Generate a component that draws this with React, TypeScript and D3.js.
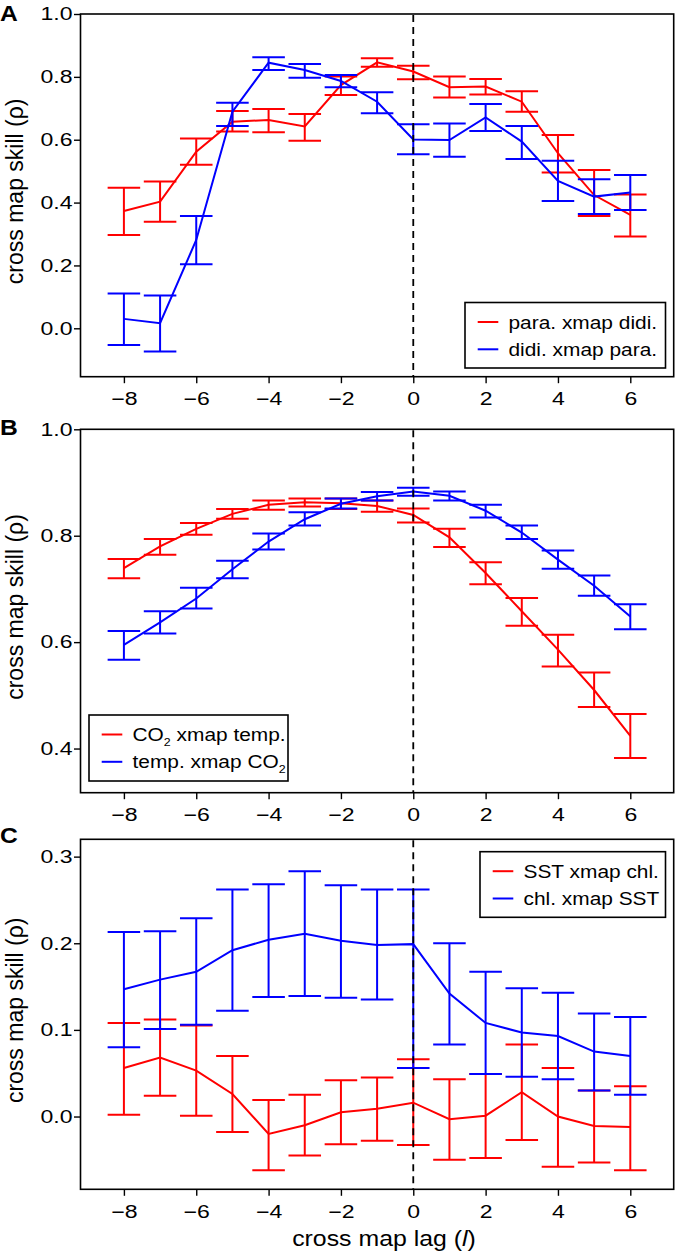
import { useEffect, useRef } from 'react';
import * as d3 from 'd3';

// ---------------------------------------------------------------------------
// data (cross map skill vs. lag)
// ---------------------------------------------------------------------------
const lags = [-8, -7, -6, -5, -4, -3, -2, -1, 0, 1, 2, 3, 4, 5, 6];
const xTicks = [-8, -6, -4, -2, 0, 2, 4, 6];

// panel A
const paraXmapDidi = [0.373, 0.403, 0.562, 0.657, 0.663, 0.642, 0.774, 0.846, 0.817, 0.767, 0.769, 0.721, 0.557, 0.424, 0.361];
const paraXmapDidiHi = [0.447, 0.467, 0.604, 0.691, 0.698, 0.682, 0.801, 0.859, 0.835, 0.801, 0.793, 0.754, 0.615, 0.504, 0.426];
const paraXmapDidiLo = [0.297, 0.339, 0.520, 0.626, 0.624, 0.597, 0.742, 0.832, 0.792, 0.734, 0.744, 0.689, 0.496, 0.357, 0.292];
const didiXmapPara = [0.030, 0.016, 0.281, 0.689, 0.845, 0.822, 0.787, 0.721, 0.601, 0.599, 0.671, 0.594, 0.469, 0.419, 0.432];
const didiXmapParaHi = [0.111, 0.104, 0.357, 0.718, 0.862, 0.841, 0.806, 0.751, 0.649, 0.652, 0.714, 0.644, 0.533, 0.474, 0.488];
const didiXmapParaLo = [-0.053, -0.074, 0.204, 0.644, 0.822, 0.797, 0.767, 0.684, 0.554, 0.546, 0.628, 0.539, 0.405, 0.364, 0.376];

// panel B
const co2XmapTemp = [0.739, 0.780, 0.813, 0.841, 0.858, 0.863, 0.861, 0.856, 0.839, 0.797, 0.730, 0.658, 0.586, 0.510, 0.424];
const co2XmapTempHi = [0.756, 0.794, 0.824, 0.850, 0.866, 0.870, 0.870, 0.866, 0.851, 0.813, 0.750, 0.683, 0.614, 0.543, 0.465];
const co2XmapTempLo = [0.720, 0.764, 0.802, 0.832, 0.849, 0.855, 0.850, 0.845, 0.825, 0.779, 0.709, 0.631, 0.554, 0.478, 0.382];
const tempXmapCo2 = [0.595, 0.637, 0.682, 0.737, 0.789, 0.831, 0.860, 0.874, 0.883, 0.875, 0.847, 0.806, 0.755, 0.706, 0.648];
const tempXmapCo2Hi = [0.621, 0.658, 0.702, 0.753, 0.804, 0.844, 0.870, 0.882, 0.890, 0.883, 0.858, 0.819, 0.772, 0.725, 0.671];
const tempXmapCo2Lo = [0.567, 0.616, 0.663, 0.720, 0.774, 0.819, 0.851, 0.866, 0.875, 0.866, 0.834, 0.794, 0.738, 0.687, 0.624];

// panel C
const sstXmapChl = [0.056, 0.068, 0.053, 0.026, -0.020, -0.010, 0.005, 0.009, 0.016, -0.003, 0.001, 0.028, 0.000, -0.011, -0.012];
const sstXmapChlHi = [0.108, 0.112, 0.105, 0.070, 0.019, 0.025, 0.042, 0.045, 0.066, 0.043, 0.049, 0.083, 0.056, 0.030, 0.035];
const sstXmapChlLo = [0.002, 0.024, 0.001, -0.018, -0.062, -0.045, -0.032, -0.028, -0.033, -0.050, -0.048, -0.027, -0.058, -0.053, -0.062];
const chlXmapSst = [0.147, 0.158, 0.167, 0.192, 0.204, 0.211, 0.203, 0.198, 0.199, 0.142, 0.108, 0.097, 0.093, 0.075, 0.070];
const chlXmapSstHi = [0.213, 0.214, 0.229, 0.262, 0.268, 0.283, 0.267, 0.262, 0.262, 0.200, 0.167, 0.148, 0.143, 0.119, 0.115];
const chlXmapSstLo = [0.080, 0.101, 0.106, 0.122, 0.138, 0.139, 0.137, 0.135, 0.056, 0.083, 0.049, 0.046, 0.043, 0.030, 0.025];

const RED = '#ff0000';
const BLUE = '#0000ff';

interface Series {
  label: string;
  color: string;
  mid: number[];
  hi: number[];
  lo: number[];
}

interface Panel {
  letter: string;
  letterY: number;
  top: number;
  bottom: number;
  yDomain: [number, number];
  yTicks: number[];
  series: Series[];
  legend: { x: number; y: number; w: number; h: number };
}

const panels: Panel[] = [
  {
    letter: 'A',
    letterY: 20.7,
    top: 14,
    bottom: 376.7,
    yDomain: [-0.154, 1.0],
    yTicks: [0, 0.2, 0.4, 0.6, 0.8, 1.0],
    series: [
      { label: 'para. xmap didi.', color: RED, mid: paraXmapDidi, hi: paraXmapDidiHi, lo: paraXmapDidiLo },
      { label: 'didi. xmap para.', color: BLUE, mid: didiXmapPara, hi: didiXmapParaHi, lo: didiXmapParaLo },
    ],
    legend: { x: 465, y: 302.5, w: 200.5, h: 65.5 },
  },
  {
    letter: 'B',
    letterY: 435,
    top: 429.3,
    bottom: 792.7,
    yDomain: [0.317, 1.0],
    yTicks: [0.4, 0.6, 0.8, 1.0],
    series: [
      { label: 'CO₂ xmap temp.', color: RED, mid: co2XmapTemp, hi: co2XmapTempHi, lo: co2XmapTempLo },
      { label: 'temp. xmap CO₂', color: BLUE, mid: tempXmapCo2, hi: tempXmapCo2Hi, lo: tempXmapCo2Lo },
    ],
    legend: { x: 89, y: 715, w: 199, h: 66 },
  },
  {
    letter: 'C',
    letterY: 843,
    top: 839.3,
    bottom: 1189.3,
    yDomain: [-0.084, 0.32],
    yTicks: [0, 0.1, 0.2, 0.3],
    series: [
      { label: 'SST xmap chl.', color: RED, mid: sstXmapChl, hi: sstXmapChlHi, lo: sstXmapChlLo },
      { label: 'chl. xmap SST', color: BLUE, mid: chlXmapSst, hi: chlXmapSstHi, lo: chlXmapSstLo },
    ],
    legend: { x: 480, y: 851.7, w: 185.5, h: 65.6 },
  },
];

const W = 675;
const H = 1256;
const LEFT = 80.5;
const RIGHT = 673.7;
const FONT = '"Liberation Sans", Arial, Helvetica, sans-serif';
// the reference type is a little wider than Liberation Sans
const TICK_STRETCH = 1.28;
const TEXT_STRETCH = 1.13;

// legend labels may carry a subscript two
function addLabel(sel: d3.Selection<SVGTextElement, unknown, null, undefined>, label: string) {
  const parts = label.split('₂');
  parts.forEach((p, i) => {
    if (p) sel.append('tspan').attr('dy', i > 0 ? -5 : null).text(p);
    if (i < parts.length - 1) {
      sel.append('tspan').attr('font-size', '11px').attr('dy', 5).text('2');
    }
  });
}

export default function App() {
  const svgRef = useRef<SVGSVGElement>(null);

  useEffect(() => {
    if (!svgRef.current) return;
    const svg = d3.select(svgRef.current);
    svg.selectAll('*').remove();

    const x = d3.scaleLinear().domain([-9.2, 7.2]).range([LEFT, RIGHT]);
    const capHalf = x(0.45) - x(0);

    panels.forEach((p) => {
      const y = d3.scaleLinear().domain(p.yDomain).range([p.bottom, p.top]);
      const g = svg.append('g');

      // series: error bars + line
      p.series.forEach((s) => {
        const sg = g.append('g').attr('stroke', s.color).attr('stroke-width', 2).attr('fill', 'none');
        lags.forEach((lag, i) => {
          const cx = x(lag);
          sg.append('line').attr('x1', cx).attr('x2', cx).attr('y1', y(s.lo[i])).attr('y2', y(s.hi[i]));
          sg.append('line').attr('x1', cx - capHalf).attr('x2', cx + capHalf).attr('y1', y(s.lo[i])).attr('y2', y(s.lo[i]));
          sg.append('line').attr('x1', cx - capHalf).attr('x2', cx + capHalf).attr('y1', y(s.hi[i])).attr('y2', y(s.hi[i]));
        });
        const line = d3.line<number>().x((_, i) => x(lags[i])).y((d) => y(d));
        sg.append('path').attr('d', line(s.mid) || '');
      });

      // lag zero reference
      g.append('line')
        .attr('x1', x(0)).attr('x2', x(0))
        .attr('y1', p.top + 1).attr('y2', p.bottom)
        .attr('stroke', '#000').attr('stroke-width', 1.8)
        .attr('stroke-dasharray', '7,5');

      // frame
      g.append('rect')
        .attr('x', LEFT).attr('y', p.top)
        .attr('width', RIGHT - LEFT).attr('height', p.bottom - p.top)
        .attr('fill', 'none').attr('stroke', '#000').attr('stroke-width', 1.6);

      // x axis
      const xa = g.append('g').attr('transform', `translate(0,${p.bottom})`)
        .call(d3.axisBottom(x).tickValues(xTicks).tickSize(6.5).tickPadding(9.2)
          .tickFormat((d) => String(d).replace('-', '\u2212')));
      xa.select('.domain').remove();
      xa.selectAll('line').attr('stroke', '#000').attr('stroke-width', 1.4);
      xa.selectAll('text')
        .attr('font-family', FONT).attr('font-size', '18px').attr('fill', '#000')
        .attr('transform', `scale(${TICK_STRETCH},1)`);

      // y axis
      const ya = g.append('g').attr('transform', `translate(${LEFT},0)`)
        .call(d3.axisLeft(y).tickValues(p.yTicks).tickSize(6.5).tickPadding(1.5).tickFormat(d3.format('.1f')));
      ya.select('.domain').remove();
      ya.selectAll('line').attr('stroke', '#000').attr('stroke-width', 1.4);
      ya.selectAll('text')
        .attr('x', 0)
        .attr('font-family', FONT).attr('font-size', '18px').attr('fill', '#000')
        .attr('transform', `translate(-8,0) scale(${TICK_STRETCH},1)`);

      // y title
      const cy = (p.top + p.bottom) / 2 - 4;
      g.append('text')
        .attr('transform', `translate(23,${cy}) rotate(-90)`)
        .attr('text-anchor', 'middle')
        .attr('font-family', FONT).attr('font-size', '23px')
        .text('cross map skill (ρ)');

      // panel letter
      g.append('text')
        .attr('transform', `translate(0,${p.letterY}) scale(1.12,1)`)
        .attr('font-family', FONT).attr('font-size', '22px').attr('font-weight', 'bold')
        .text(p.letter);

      // legend
      const L = p.legend;
      const lg = g.append('g');
      lg.append('rect').attr('x', L.x).attr('y', L.y).attr('width', L.w).attr('height', L.h)
        .attr('fill', '#fff').attr('stroke', '#000').attr('stroke-width', 1.6);
      p.series.forEach((s, i) => {
        const ry = L.y + 19.5 + i * 27.3;
        lg.append('line').attr('x1', L.x + 12.7).attr('x2', L.x + 33.3).attr('y1', ry).attr('y2', ry)
          .attr('stroke', s.color).attr('stroke-width', 2);
        const t = lg.append('text')
          .attr('transform', `translate(${L.x + 43.5},${ry + 6.6}) scale(${TEXT_STRETCH},1)`)
          .attr('font-family', FONT).attr('font-size', '18.5px');
        addLabel(t, s.label);
      });
    });

    // x title
    const xt = svg.append('text')
      .attr('transform', `translate(384,1246) scale(${TEXT_STRETCH},1)`)
      .attr('text-anchor', 'middle')
      .attr('font-family', FONT).attr('font-size', '22px');
    xt.append('tspan').text('cross map lag (');
    xt.append('tspan').attr('font-style', 'italic').text('l');
    xt.append('tspan').text(')');
  }, []);

  return (
    <svg
      ref={svgRef}
      width={W}
      height={H}
      style={{ position: 'absolute', left: 0, top: 0, background: '#fff' }}
    />
  );
}
